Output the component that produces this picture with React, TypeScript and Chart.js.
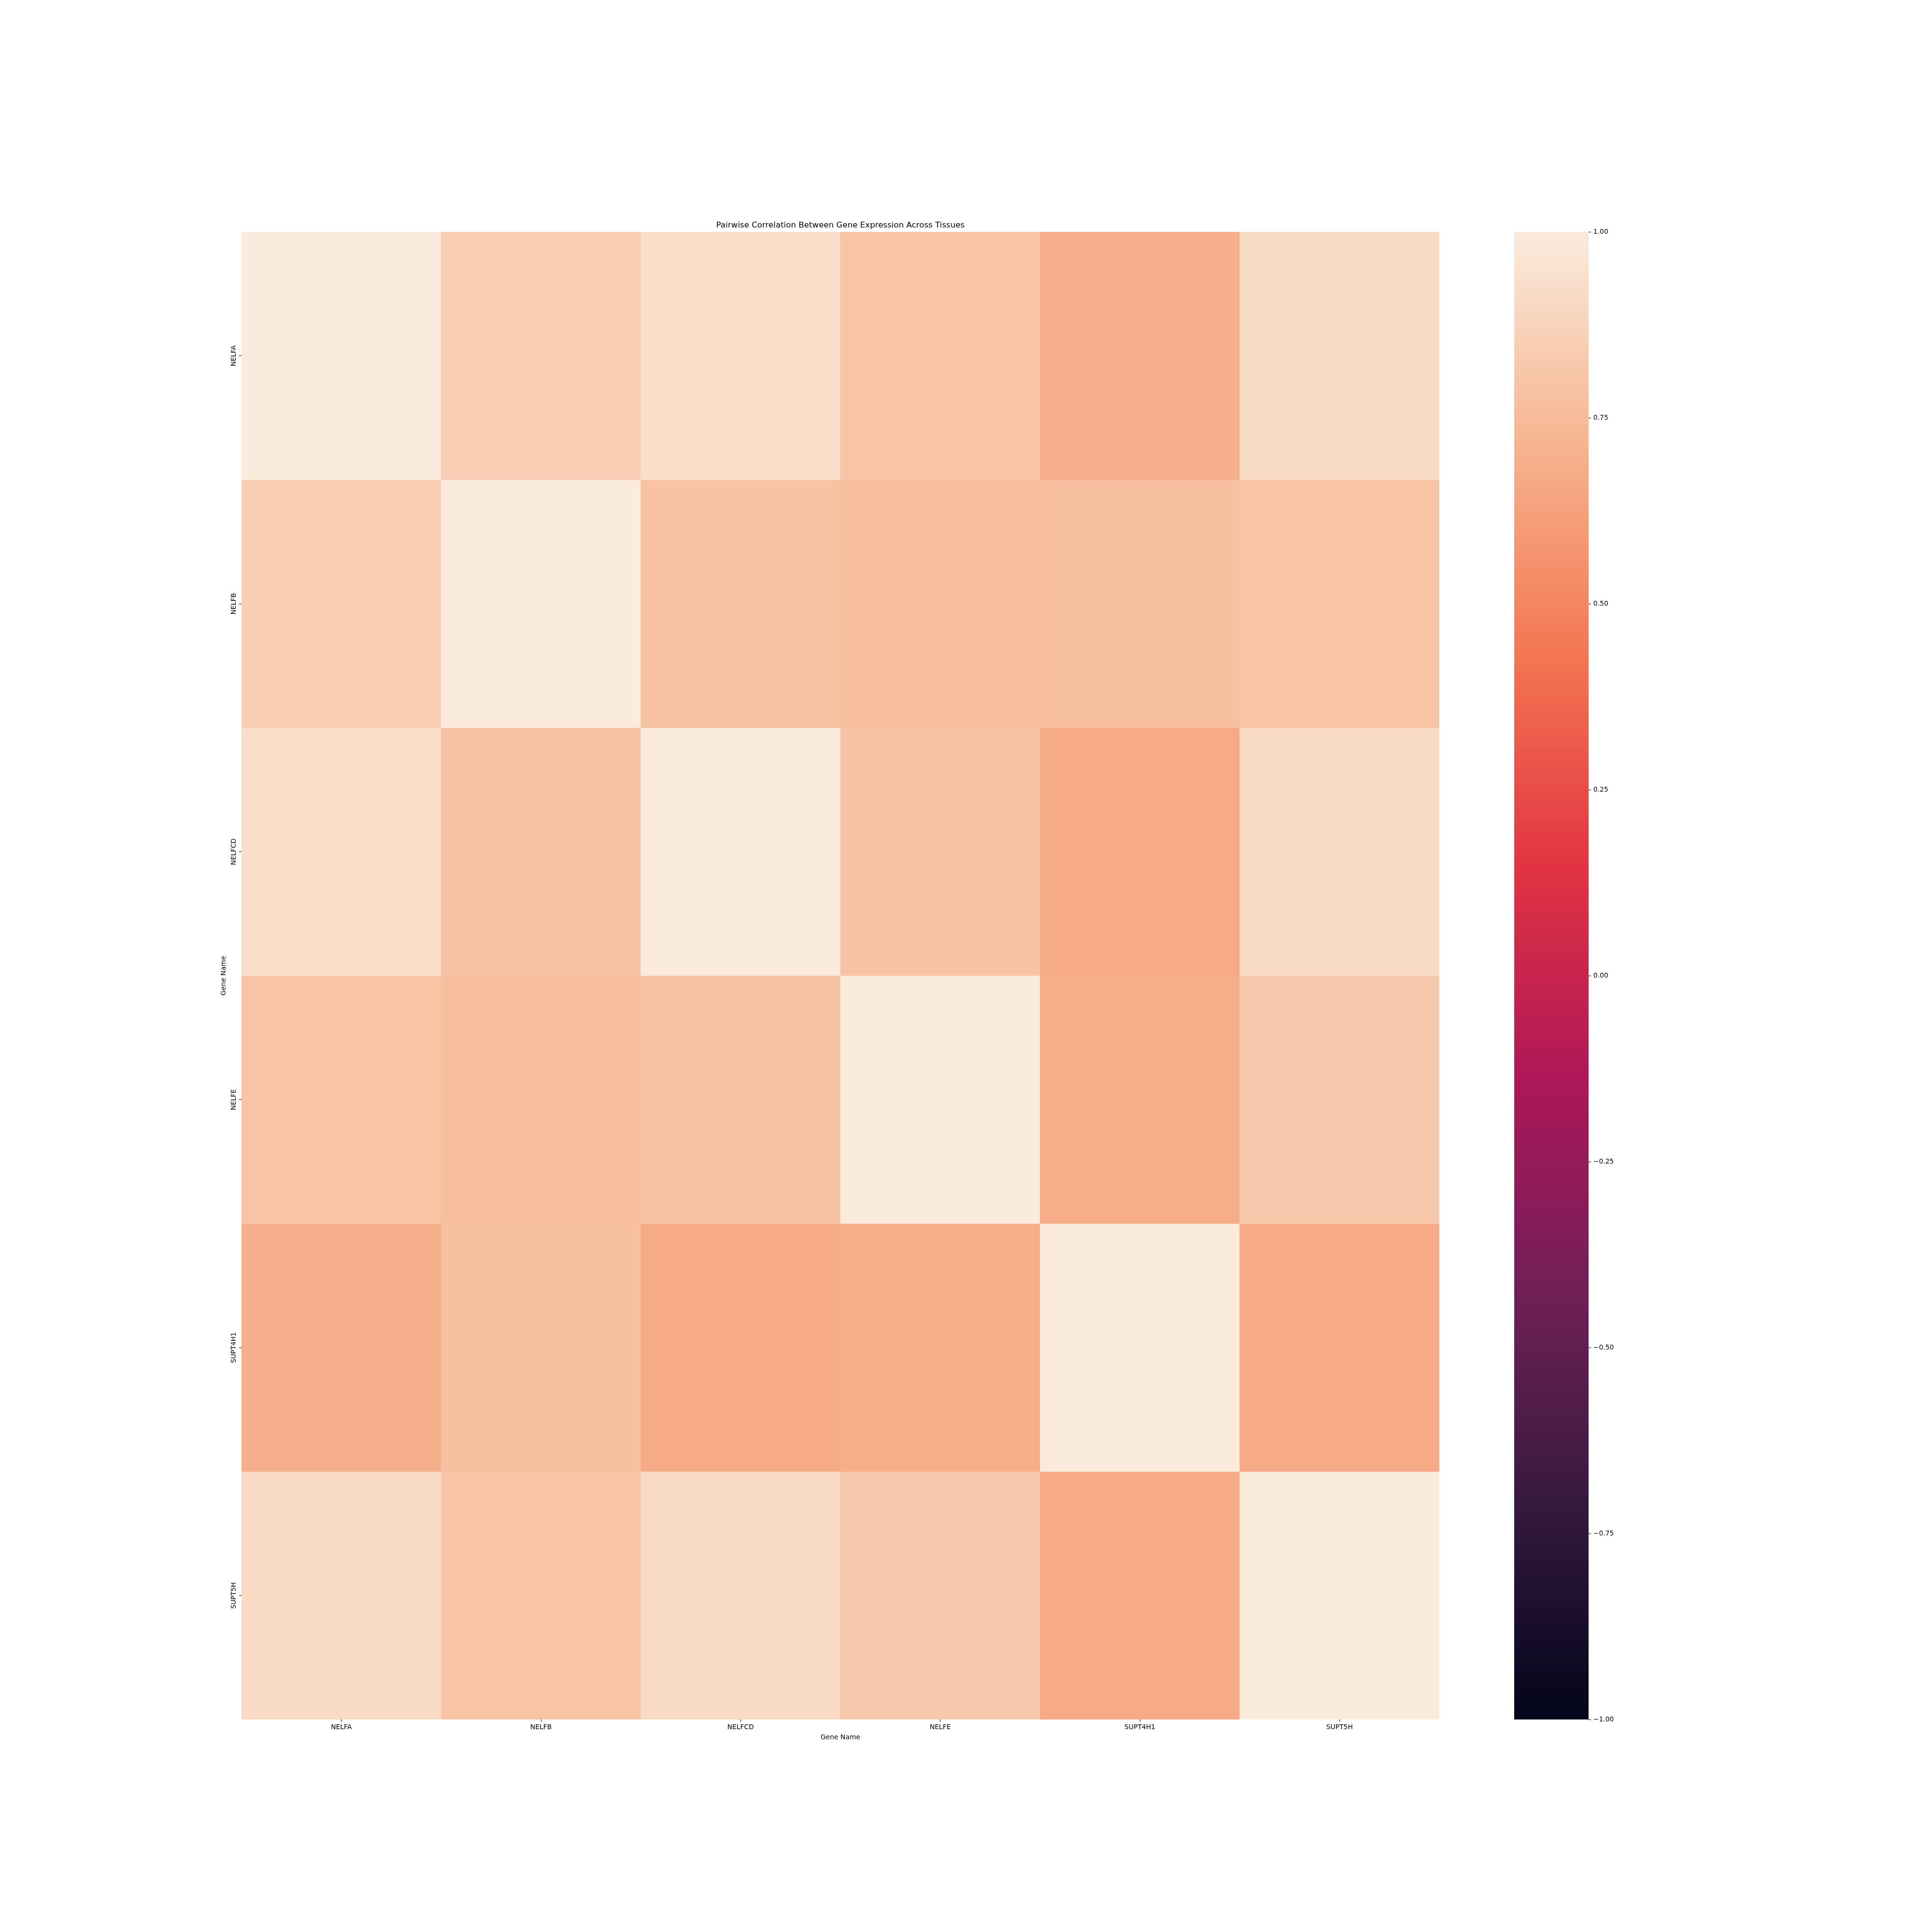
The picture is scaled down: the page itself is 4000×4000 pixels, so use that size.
import React, { useEffect, useRef } from "react";
import { Chart, registerables } from "chart.js";

Chart.register(...registerables);

// ---------- data ----------
const genes = ["NELFA", "NELFB", "NELFCD", "NELFE", "SUPT4H1", "SUPT5H"];
const corrNELFA = [1.0, 0.85, 0.93, 0.8, 0.69, 0.91];
const corrNELFB = [0.85, 1.0, 0.79, 0.77, 0.775, 0.795];
const corrNELFCD = [0.93, 0.79, 1.0, 0.79, 0.67, 0.91];
const corrNELFE = [0.8, 0.77, 0.79, 1.0, 0.68, 0.82];
const corrSUPT4H1 = [0.69, 0.775, 0.67, 0.68, 1.0, 0.675];
const corrSUPT5H = [0.91, 0.795, 0.91, 0.82, 0.675, 1.0];
const colorbarTicks = [-1, -0.75, -0.5, -0.25, 0, 0.25, 0.5, 0.75, 1];
const vmin = -1;
const vmax = 1;
const titleText = "Pairwise Correlation Between Gene Expression Across Tissues";
const xTitle = "Gene Name";
const yTitle = "Gene Name";

// ---------- style ----------
const FONT = "DejaVu Sans";
const rocketStops: [number, number, number, number][] = [
  [0, 3, 5, 26],
  [1 / 7, 53, 25, 62],
  [2 / 7, 112, 31, 87],
  [3 / 7, 173, 23, 89],
  [4 / 7, 225, 51, 66],
  [5 / 7, 243, 118, 81],
  [6 / 7, 246, 180, 143],
  [1, 250, 235, 221],
];

function rocket(v: number): string {
  let t = (v - vmin) / (vmax - vmin);
  t = Math.max(0, Math.min(1, t));
  for (let i = 1; i < rocketStops.length; i++) {
    const a = rocketStops[i - 1];
    const b = rocketStops[i];
    if (t <= b[0]) {
      const f = (t - a[0]) / (b[0] - a[0]);
      const r = Math.round(a[1] + (b[1] - a[1]) * f);
      const g = Math.round(a[2] + (b[2] - a[2]) * f);
      const bl = Math.round(a[3] + (b[3] - a[3]) * f);
      return `rgb(${r},${g},${bl})`;
    }
  }
  const l = rocketStops[rocketStops.length - 1];
  return `rgb(${l[1]},${l[2]},${l[3]})`;
}

function fmtTick(v: number): string {
  const s = (Math.abs(v) < 1e-9 ? 0 : v).toFixed(2);
  return s.replace("-", "\u2212");
}

const tickFont = { family: FONT, size: 13.89, lineHeight: 1, weight: "normal" as const };
const titleFont = { family: FONT, size: 16.67, lineHeight: 1, weight: "normal" as const };
const tickGrid = {
  display: true,
  drawOnChartArea: false,
  drawTicks: true,
  tickLength: 4.86,
  tickWidth: 1.11,
  tickColor: "#000",
  offset: false,
};

export default function App() {
  const heatRef = useRef<HTMLCanvasElement | null>(null);
  const barRef = useRef<HTMLCanvasElement | null>(null);

  useEffect(() => {
    const matrix = [corrNELFA, corrNELFB, corrNELFCD, corrNELFE, corrSUPT4H1, corrSUPT5H];
    const datasets = matrix.map((row, i) => ({
      label: genes[i],
      data: row.map(() => [i, i + 1] as [number, number]),
      backgroundColor: row.map((v) => rocket(v)),
      borderWidth: 0,
      grouped: false,
      barPercentage: 1,
      categoryPercentage: 1,
    }));

    const heat = new Chart(heatRef.current as HTMLCanvasElement, {
      type: "bar",
      data: { labels: genes, datasets: datasets as any },
      options: {
        animation: false,
        responsive: false,
        maintainAspectRatio: false,
        devicePixelRatio: 1,
        events: [],
        layout: { padding: { left: 0, right: 20, top: 458.06, bottom: 380 } },
        plugins: {
          legend: { display: false },
          tooltip: { enabled: false },
          title: {
            display: true,
            text: titleText,
            fullSize: false,
            color: "#000",
            font: titleFont,
            padding: { top: 0, bottom: 5.27 },
          },
        },
        scales: {
          x: {
            type: "category",
            offset: true,
            grid: tickGrid,
            border: { display: false },
            ticks: {
              font: tickFont,
              color: "#000",
              padding: 5,
              autoSkip: false,
              maxRotation: 0,
              minRotation: 0,
            },
            title: {
              display: true,
              text: xTitle,
              color: "#000",
              font: tickFont,
              padding: { top: 0, bottom: 15.55 },
            },
            afterFit: (s: any) => {
              s.height = 60;
            },
          },
          y: {
            type: "linear",
            min: 0,
            max: genes.length,
            reverse: true,
            afterBuildTicks: (s: any) => {
              s.ticks = genes.map((_, i) => ({ value: i + 0.5 }));
            },
            grid: tickGrid,
            border: { display: false },
            ticks: {
              callback: (v: any) => genes[Math.round(Number(v) - 0.5)],
              font: tickFont,
              color: "#000",
              minRotation: 90,
              maxRotation: 90,
              crossAlign: "center",
              padding: -21.5,
              autoSkip: false,
            },
            title: {
              display: true,
              text: yTitle,
              color: "#000",
              font: tickFont,
              padding: { top: 456.95, bottom: 0 },
            },
            afterFit: (s: any) => {
              s.width = 500;
            },
          },
        },
      } as any,
    });

    const cbar = new Chart(barRef.current as HTMLCanvasElement, {
      type: "bar",
      data: {
        labels: [""],
        datasets: [
          {
            data: [[vmin, vmax]] as any,
            backgroundColor: (c: any) => {
              const chart = c.chart;
              const y = chart.scales && chart.scales.y;
              if (!chart.chartArea || !y) return rocket(0);
              const g = chart.ctx.createLinearGradient(
                0,
                y.getPixelForValue(vmin),
                0,
                y.getPixelForValue(vmax)
              );
              const n = 84;
              for (let k = 0; k <= n; k++) {
                g.addColorStop(k / n, rocket(vmin + (k / n) * (vmax - vmin)));
              }
              return g;
            },
            borderWidth: 0,
            barPercentage: 1,
            categoryPercentage: 1,
          },
        ],
      },
      options: {
        animation: false,
        responsive: false,
        maintainAspectRatio: false,
        devicePixelRatio: 1,
        events: [],
        layout: { padding: { left: 135, right: 0, top: 480, bottom: 440 } },
        plugins: { legend: { display: false }, tooltip: { enabled: false }, title: { display: false } },
        scales: {
          x: { display: false, offset: true },
          y: {
            type: "linear",
            position: "right",
            min: vmin,
            max: vmax,
            afterBuildTicks: (s: any) => {
              s.ticks = colorbarTicks.map((v) => ({ value: v }));
            },
            grid: tickGrid,
            border: { display: false },
            ticks: {
              callback: (v: any) => fmtTick(Number(v)),
              font: tickFont,
              color: "#000",
              padding: 5,
              autoSkip: false,
            },
            afterFit: (s: any) => {
              s.width = 111;
            },
          },
        },
      } as any,
    });

    return () => {
      heat.destroy();
      cbar.destroy();
    };
  }, []);

  return (
    <div
      style={{
        position: "absolute",
        left: 0,
        top: 0,
        width: 4000,
        height: 4000,
        background: "#fff",
        overflow: "hidden",
      }}
    >
      <canvas
        ref={heatRef}
        width={3000}
        height={4000}
        style={{ position: "absolute", left: 0, top: 0, width: 3000, height: 4000 }}
      />
      <canvas
        ref={barRef}
        width={400}
        height={4000}
        style={{ position: "absolute", left: 3000, top: 0, width: 400, height: 4000 }}
      />
    </div>
  );
}
